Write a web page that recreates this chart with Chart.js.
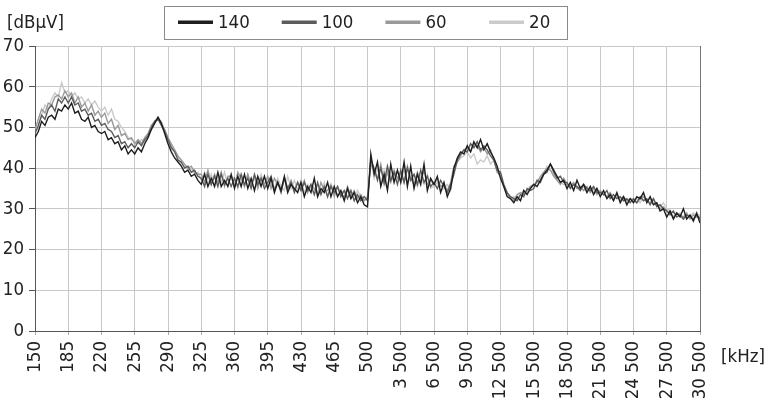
<!DOCTYPE html>
<html>
<head>
<meta charset="utf-8">
<script src="https://cdn.jsdelivr.net/npm/chart.js@4.4.1/dist/chart.umd.min.js"></script>
<style>
  html, body { margin: 0; padding: 0; background: #fff; }
  #wrap { width: 767px; height: 398px; }
</style>
</head>
<body>
<div id="wrap"><canvas id="emi-chart" width="767" height="398"></canvas></div>
<script>
// frequency ticks [kHz], 10 samples between each pair
const xTickLabels = ['150', '185', '220', '255', '290', '325', '360', '395', '430', '465', '500',
  '3 500', '6 500', '9 500', '12 500', '15 500', '18 500', '21 500', '24 500', '27 500', '30 500']
const seriesNames = ['140', '100', '60', '20']
const seriesColors = ['#1e1e1e', '#5c5c5c', '#9a9a9a', '#cbcbcb']

const level140 = [
  47.5, 49, 51.5, 50.5, 52.5, 53, 52, 54.5, 54, 55.5,
  54.5, 56, 53.5, 54, 52, 51.5, 52.5, 50, 50.5, 49,
  48.5, 49, 47, 47.5, 46, 46.5, 44.5, 45.5, 43.5, 44.5,
  43.5, 45, 44, 46, 47.5, 49.5, 51, 52.5, 51, 48.5,
  46, 44, 42.5, 41.5, 40.5, 39, 39.5, 38, 38.5, 37,
  36, 38.5, 35.5, 37.5, 35.5, 39, 35.5, 37, 35.5, 38.5,
  35, 38, 35.5, 38.5, 35, 37.5, 34.5, 38, 35.5, 38,
  35, 37.5, 34, 36.5, 34.5, 38, 34, 36, 35, 34,
  36.5, 33, 35.5, 34, 37.5, 33, 35, 34, 36.5, 33,
  35.5, 33, 34.5, 32, 35, 32.5, 34, 31.5, 33, 31,
  30.5, 43.5, 38.5, 41.5, 35.5, 38.5, 34.5, 41, 36.5, 39.5,
  36.5, 41.5, 35.5, 40.5, 35, 38.5, 36, 41, 34.5, 37.5,
  36, 38, 34, 36.5, 33, 35, 40, 42.5, 44, 43.5,
  45.5, 44, 46.5, 45, 47, 44.5, 46, 44, 42.5, 40.5,
  37.5, 35.5, 33, 32.5, 31.5, 33, 32, 34.5, 33.5, 35,
  36, 35.5, 37, 38.5, 39.5, 41, 39.5, 38, 36.5, 37,
  35, 36.5, 34.5, 37, 35, 36, 34, 35.5, 33.5, 35,
  33, 34.5, 32.5, 33.5, 32, 34, 31.5, 33, 31, 32.5,
  31.5, 33, 32.5, 34, 31.5, 33, 31, 31.5, 29.5, 30,
  28, 29.5, 27.5, 29, 28, 30, 27.5, 28.5, 27, 29,
  26.5
]
const level100 = [
  48.5, 50.5, 53, 52, 54.5, 55.5, 54, 57, 56, 57.5,
  56, 57.5, 55.5, 56, 54, 54.5, 53, 53.5, 51.5, 52,
  50.5, 51, 49.5, 49, 47.5, 48, 46, 46.5, 45, 46,
  45, 46.5, 45.5, 47, 48, 50, 51.5, 52, 50.5, 49,
  47, 45, 44, 42, 41.5, 40, 40.5, 39, 39.5, 38,
  37.5, 35.5, 38.5, 36, 38, 35.5, 38.5, 36, 37.5, 35.5,
  37.5, 35.5, 38.5, 36, 37.5, 35, 38.5, 36, 37.5, 35,
  36.5, 38, 34.5, 36.5, 34, 37.5, 35, 36.5, 34, 36.5,
  34.5, 36.5, 34.5, 36, 33.5, 36.5, 33.5, 35.5, 33, 35.5,
  34, 35.5, 33, 34.5, 32.5, 34.5, 32, 33.5, 32, 33,
  32, 42, 40, 37, 40, 36.5, 40.5, 37, 39, 36,
  39.5, 36.5, 40, 37, 38.5, 36, 39.5, 36.5, 38, 35.5,
  36.5, 35, 37, 35.5, 34, 36, 38.5, 42, 43.5, 44.5,
  44, 46, 45, 46.5, 44.5, 45.5, 44.5, 43, 42, 39.5,
  39, 36, 34, 33, 32.5, 32, 33.5, 33, 35, 34.5,
  35, 37, 36.5, 38.5, 39, 41, 39, 37.5, 38, 36.5,
  36.5, 35, 36, 35.5, 34.5, 36, 35, 34.5, 35.5, 34,
  34, 33.5, 34.5, 32.5, 33.5, 32.5, 33, 32, 32.5, 31.5,
  32.5, 31.5, 33, 32, 32.5, 31, 32.5, 30.5, 31, 30,
  29.5, 28.5, 29.5, 28, 28.5, 27.5, 28.5, 28, 27.5, 28.5,
  27.5
]
const level60 = [
  49.5, 52, 54.5, 53.5, 56, 55.5, 57.5, 58, 57, 59,
  57.5, 58.5, 56, 57.5, 55, 56, 54, 55.5, 53, 54,
  52.5, 53.5, 51, 52, 49.5, 50.5, 48, 48.5, 47, 47.5,
  46, 47, 46, 47.5, 48.5, 50.5, 51.5, 52.5, 51, 49.5,
  47.5, 46, 44.5, 43, 42, 41, 40, 40.5, 39, 38.5,
  38.5, 36.5, 39.5, 36, 38.5, 36.5, 39, 35.5, 38, 38,
  35.5, 39, 37.5, 35.5, 38.5, 36, 38, 35, 37.5, 36,
  38, 35, 37.5, 36, 35, 37.5, 35, 37, 34.5, 36.5,
  35, 37, 34, 36, 35, 33.5, 36.5, 34.5, 34.5, 36,
  33, 35.5, 33.5, 33, 35.5, 33, 34.5, 32.5, 33.5, 32,
  33, 41, 39.5, 37.5, 41, 36, 39, 36.5, 39.5, 37.5,
  39, 36.5, 40.5, 37.5, 36, 39, 36.5, 39.5, 36, 37,
  36, 37.5, 35.5, 36, 34.5, 36.5, 40.5, 41.5, 43, 44.5,
  45, 44, 46, 45.5, 44, 45, 43.5, 44.5, 42, 39,
  38, 35.5, 34, 32.5, 32, 33.5, 34, 33.5, 34.5, 35.5,
  36, 36.5, 38, 39, 40, 39.5, 38, 37, 36, 37.5,
  36, 35.5, 36.5, 35, 35.5, 34.5, 35.5, 34, 35, 33.5,
  34.5, 33.5, 33, 34, 32.5, 33.5, 32, 33, 32, 32.5,
  32, 31.5, 32.5, 33, 32, 31.5, 32.5, 31, 30, 30.5,
  29.5, 29, 28, 29, 28.5, 28, 29, 27.5, 28.5, 28,
  28
]
const level20 = [
  48.5, 50.5, 53, 55.5, 54.5, 57, 58.5, 57.5, 61, 58.5,
  59, 57.5, 58.5, 57, 57.5, 56, 57, 55.5, 56.5, 55,
  54, 55, 53, 54.5, 52, 51.5, 50, 49, 47.5, 47,
  46.5, 46, 47, 46.5, 48, 49.5, 51.5, 52, 51.5, 49,
  47, 45.5, 44, 42.5, 41, 40.5, 39.5, 40, 38.5, 39,
  37, 39, 36, 38.5, 35.5, 38, 36.5, 39, 35.5, 38,
  37.5, 35, 38, 35.5, 38.5, 36, 37.5, 35.5, 38.5, 36,
  37.5, 36, 35, 37.5, 35.5, 34.5, 38, 35, 37, 34.5,
  37, 34, 36, 35, 33.5, 36, 34, 36.5, 33, 35.5,
  35.5, 33.5, 34, 34.5, 33, 34.5, 32, 34.5, 33, 32,
  32.5, 42.5, 37.5, 40, 36, 39.5, 35.5, 38.5, 36.5, 39.5,
  36.5, 39.5, 36, 38, 38.5, 35.5, 38, 36, 38.5, 35,
  35.5, 36.5, 34.5, 35, 36, 34.5, 39.5, 41.5, 42.5, 43,
  44, 42.5, 43.5, 41, 42, 41.5, 43, 41, 42, 39,
  38.5, 35.5, 33, 32.5, 33, 32.5, 33.5, 34.5, 34, 35.5,
  35.5, 37, 37.5, 38.5, 40.5, 39.5, 38.5, 37.5, 36.5, 36,
  36, 35, 36, 35.5, 34.5, 35.5, 34.5, 35, 34, 35,
  34, 33.5, 33, 33.5, 32, 33.5, 32.5, 33, 31.5, 32.5,
  32, 32.5, 31.5, 33, 32, 32.5, 31, 31.5, 30.5, 31.5,
  30, 29.5, 29, 28.5, 29, 27.5, 28.5, 28, 29, 28.5,
  28.5
]

const SAMPLES_PER_TICK = 10
const FONT = '"DejaVu Sans Condensed", "DejaVu Sans", sans-serif'

const sampleIndex = level140.map((v, i) => i)

// boxed legend + axis unit labels
const decorPlugin = {
  id: 'decor',
  afterDraw(chart) {
    const ctx = chart.ctx
    ctx.save()
    ctx.strokeStyle = '#8a8a8a'
    ctx.lineWidth = 1
    ctx.strokeRect(164.5, 6.5, 403, 33)
    ctx.font = '18.5px ' + FONT
    ctx.textBaseline = 'middle'
    chart.data.datasets.forEach((ds, i) => {
      const x0 = 178 + i * 103.7
      ctx.fillStyle = ds.borderColor
      ctx.fillRect(x0, 20.5, 35, 3.5)
      ctx.fillStyle = '#222'
      ctx.fillText(ds.label, x0 + 40, 23)
    })
    ctx.fillStyle = '#222'
    ctx.fillText('[dBµV]', 7, 23)
    ctx.fillText('[kHz]', 721, 357)
    ctx.restore()
  },
}

const datasets = [level140, level100, level60, level20].map((vals, i) => ({
  label: seriesNames[i],
  data: vals,
  borderColor: seriesColors[i],
  backgroundColor: seriesColors[i],
  borderWidth: 1.4,
  pointRadius: 0,
  tension: 0,
  fill: false,
}))

new Chart(document.querySelector('#emi-chart'), {
  type: 'line',
  data: { labels: sampleIndex, datasets: datasets },
  plugins: [decorPlugin],
  options: {
    responsive: false,
    animation: false,
    layout: { padding: { top: 46, right: 67, left: 0, bottom: 0 } },
    plugins: { legend: { display: false }, tooltip: { enabled: false } },
    scales: {
      x: {
        type: 'linear',
        min: 0,
        max: (xTickLabels.length - 1) * SAMPLES_PER_TICK,
        afterFit: (scale) => { scale.height = 67 },
        border: { color: '#555', width: 1 },
        grid: {
          color: (c) => (c.index === xTickLabels.length - 1 ? '#777' : '#c8c8c8'),
          tickColor: '#aaa',
          tickLength: 4,
        },
        ticks: {
          stepSize: SAMPLES_PER_TICK,
          autoSkip: false,
          minRotation: 90,
          maxRotation: 90,
          padding: 6,
          color: '#222',
          font: { family: FONT, size: 18.5 },
          callback: (v) => xTickLabels[v / SAMPLES_PER_TICK],
        },
      },
      y: {
        min: 0,
        max: 70,
        afterFit: (scale) => { scale.width = 35 },
        border: { color: '#555', width: 1 },
        grid: {
          color: '#c8c8c8',
          tickColor: '#555',
          tickLength: 6,
        },
        ticks: {
          stepSize: 10,
          padding: 5,
          color: '#222',
          font: { family: FONT, size: 18.5 },
        },
      },
    },
  },
})
</script>
</body>
</html>
